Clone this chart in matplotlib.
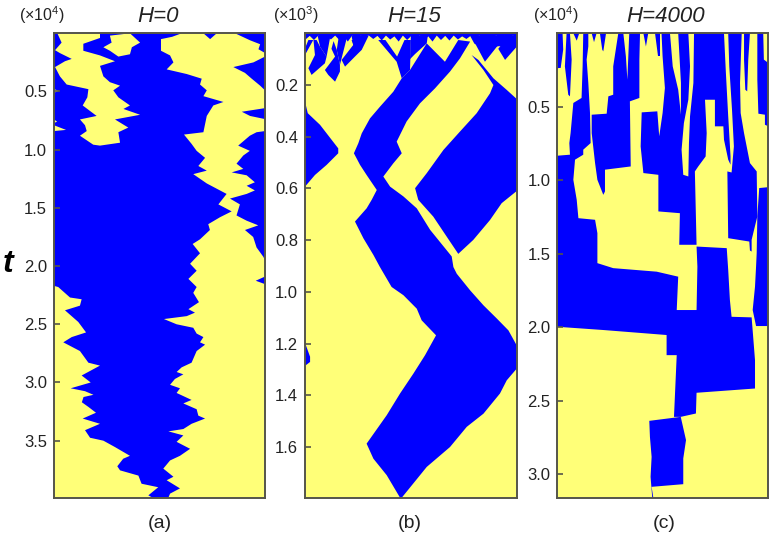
import matplotlib
matplotlib.use('Agg')
import matplotlib.pyplot as plt

plt.rcParams['font.family'] = ['Liberation Sans', 'DejaVu Sans']

BLUE = '#0000ff'
YELLOW = '#ffff78'
EDGE = '#55554a'

# domain boundaries, as (site %, t)
# panel (a), H=0
a_main = [(0, 0), (60.5, 0), (56, .03), (50.7, .05), (50.7, .15), (55, .19), (56.6, .25), (53.4, .31), (62.9, .35),
          (70, .39), (69.2, .44), (72.4, .49), (70.8, .54), (80.3, .59), (75.5, .62), (72.4, .71), (70.8, .85),
          (61.6, .87), (65.2, .95), (67.6, 1.01), (71.6, 1.07), (68.4, 1.14), (72.4, 1.18), (66, 1.21), (72.4, 1.29),
          (81.8, 1.38), (77.9, 1.47), (84.2, 1.53), (78.7, 1.58), (73.1, 1.64), (73.9, 1.69), (69.2, 1.77),
          (65.7, 1.81), (69.2, 1.89), (64.5, 1.98), (67.6, 2.04), (63.7, 2.11), (67.6, 2.18), (66, 2.23),
          (68.7, 2.31), (63.7, 2.37), (66.8, 2.40), (62.9, 2.43), (52.1, 2.455), (58.1, 2.50), (66, 2.53),
          (67.6, 2.58), (70.8, 2.61), (69.2, 2.655), (71.6, 2.675), (67.6, 2.73), (65.2, 2.83), (60.5, 2.87),
          (58.1, 2.91), (61.3, 2.93), (57.3, 2.97), (55, 3.02), (59.7, 3.05), (58.1, 3.09), (65.2, 3.15),
          (61.3, 3.18), (67.6, 3.23), (68.4, 3.285), (71.6, 3.31), (65.2, 3.355), (61.3, 3.40), (54.2, 3.42),
          (61.3, 3.455), (58.1, 3.51), (64.5, 3.57), (59.7, 3.63), (55, 3.67), (51.8, 3.74), (56.6, 3.81),
          (53.4, 3.84), (59.7, 3.91), (55, 3.955), (54.2, 3.99), (46.8, 3.99), (44.7, 3.97), (49.4, 3.90),
          (41.5, 3.87), (40, 3.80), (31.3, 3.755), (30, 3.72), (32.8, 3.655), (36, 3.63), (28.9, 3.555),
          (23.4, 3.50), (17.1, 3.475), (14.7, 3.41), (21.8, 3.355), (13.6, 3.31), (19.9, 3.26), (16.3, 3.21),
          (13.2, 3.17), (14, 3.125), (18.7, 3.106), (14.7, 3.075), (7.9, 3.05), (17.4, 3.0), (13.1, 2.94),
          (21.8, 2.855), (16.3, 2.83), (12.3, 2.73), (4.4, 2.655), (8.4, 2.61), (15.2, 2.57), (11.5, 2.48),
          (5.2, 2.38), (12.3, 2.34), (13.1, 2.285), (7.6, 2.27), (2, 2.18), (0, 2.17)]
a_right = [
    [(85.8, 0), (92.9, .06), (97.7, .094), (96.9, .137), (99.7, .166), (100, .17), (100, 0)],
    [(70.8, 0), (74, .05), (77.1, 0)],
    [(100, .2), (94.5, .25), (85, .29), (90.5, .34), (93.7, .39), (97.7, .45), (100, .49)],
    [(100, .643), (89, .674), (92.9, .71), (100, .737)],
    [(100, .84), (96, .85), (92.8, .88), (87.3, .965), (92.8, 1.01), (89.7, 1.05), (86.5, 1.12), (89.7, 1.165),
     (84.2, 1.195), (91.3, 1.22), (95.2, 1.28), (91.3, 1.31), (95.2, 1.35), (91.3, 1.38), (83.4, 1.42), (88.1, 1.47),
     (86.5, 1.565), (91.3, 1.61), (96.8, 1.65), (90.5, 1.69), (94.4, 1.75), (96, 1.84), (99.2, 1.92), (100, 1.95)],
    [(100, 2.09), (95.6, 2.126), (100, 2.155)],
]
a_islands = [
    [(1.6, 0), (21.8, 0), (21.8, .04), (13.9, .09), (13.9, .15), (21.8, .19), (28.9, .24), (21.8, .28), (23.4, .37),
     (26.5, .42), (31.3, .45), (28.1, .49), (30.5, .55), (36, .62), (32.9, .65), (40.8, .70), (28.9, .74), (35.2, .81),
     (30.5, .85), (31.3, .94), (21.8, .965), (18.6, .957), (12.3, .88), (15.5, .84), (14.7, .79), (12.3, .74),
     (20.2, .71), (13.6, .62), (15.8, .55), (16.3, .48), (6, .44), (2.8, .37), (.5, .29), (5.2, .24), (8.4, .22),
     (2.8, .17), (.5, .145), (3.6, .08)],
    [(26.5, .02), (36, 0), (40.8, .08), (36.9, .12), (36, .18), (30.5, .2), (26.5, .15), (23.4, .12), (27.3, .08)],
    [(0, .48), (2.5, .495), (0, .51)],
    [(0, .74), (1.5, .76), (0, .77)],
    [(0, .79), (5.7, .83), (0, .84)],
]

# panel (b), H=15
b_band = [(45.7, .174), (41.7, .226), (35.4, .284), (30.7, .329), (26.8, .387), (25.2, .425), (23.1, .464), (26, .509),
          (29.1, .548), (33.9, .606), (31.5, .644), (29.1, .677), (23.6, .728), (27.6, .793), (32.3, .857), (35.4, .904),
          (40.9, .981), (46.5, 1.013), (52.8, 1.065), (55.1, 1.11), (61.9, 1.168), (56.7, 1.245), (51.2, 1.316),
          (44.9, 1.393), (38.6, 1.477), (29.1, 1.587), (32.3, 1.645), (38.6, 1.709), (44.9, 1.796), (45.7, 1.796),
          (57.5, 1.677), (68.5, 1.6), (76.4, 1.522), (84.3, 1.471), (92.1, 1.393), (95.3, 1.342), (100, 1.297),
          (100, 1.207), (96.1, 1.149), (90.6, 1.103), (84.3, 1.052), (78, .994), (71.7, .93), (70.1, .904), (69.3, .863),
          (59.1, .76), (52.8, .677), (46.5, .631), (40.2, .593), (37, .554), (41.7, .503), (45.7, .464), (43.3, .419),
          (48, .341), (54.3, .271), (61.4, .213), (68.5, .148), (73.2, .097), (78, .032), (72.4, .026), (66.1, .11),
          (57.5, .039), (49.6, .142)]
b_right = [(78.7, .084), (84.3, .142), (89, .2), (87.4, .232), (81.1, .309), (73.2, .38), (65.4, .451), (57.5, .541),
           (52, .599), (53.5, .644), (60.6, .709), (66.9, .786), (72.4, .853), (79.5, .799), (87.4, .722), (92.9, .657),
           (99.7, .612), (100, .612), (100, .254), (95.3, .219), (89, .174), (81.9, .103)]
b_small = [
    [(0, .264), (1.3, .309), (7.1, .354), (15.7, .445), (15.7, .464), (10.2, .509), (4.7, .548), (0, .593)],
    [(0, 1.197), (2.4, 1.251), (2.4, 1.271), (0, 1.286)],
    [(34.6, .026), (38, .026), (43.5, .09), (47, .026), (50, .026), (49.6, .142), (45.7, .174), (43.3, .11)],
    [(4.7, .084), (1.6, .135), (3.1, .161), (9.4, .116), (10.2, .09), (7.1, .052), (5.5, .026), (4, .026)],
    [(14.2, .09), (9.4, .142), (11, .161), (14.2, .187), (16.5, .148), (16.5, .122), (15, .064), (13.5, .03), (12.5, .06)],
    [(17.3, .103), (22.8, .045), (22, .026), (26, .026), (26.8, .064), (23.6, .09), (18.9, .129)],
    [(0, .084), (3.9, .026), (1.6, .026), (0, .058)],
    [(79.5, .026), (85, .11), (91.3, .045), (87.4, .026)],
    [(91.3, .06), (94.5, .026), (100, .026), (100, .052), (94.5, .103)],
    [(6, .01), (12, .01), (10.2, .09), (7.1, .052)],
    [(16, .01), (20, .01), (16.5, .122), (15, .064)],
    [(22, .01), (30, .01), (26.8, .064), (22.8, .045)],
    [(78, .01), (100, .01), (100, .04), (94, .05), (91.3, .05), (85, .06), (80, .04)],
    [(50, .01), (58, .01), (57.5, .039), (52, .08), (49.6, .10)],
]
b_comb_sites = [0, 2, 4, 6, 8, 10, 12, 14, 16, 18, 20, 22, 24, 26, 28, 30, 32, 34, 36, 38, 40, 42, 44, 46, 48, 50,
                52, 54, 56, 58, 60, 62, 64, 66, 68, 70, 72, 74, 76, 78, 80, 82, 84, 86, 88, 90, 92, 94, 96, 98, 100]
b_comb_depth = [.022, .008, .024, .007, .026, .009, .022, .007, .024, .008, .03, .007, .024, .008, .01, .007, .02, .008,
                .026, .007, .022, .01, .03, .007, .024, .008, .026, .007, .022, .01, .03, .007, .024, .008, .026, .007,
                .022, .01, .02, .008, .026, .007, .024, .01, .03, .007, .024, .008, .026, .007, .022]

# panel (c), H=4000
c_big = [(12.3, 0), (14.7, 0), (14.7, .089), (13.9, .179), (14.7, .338), (15.5, .543), (15.8, .747), (12.3, .792),
         (12.3, .826), (8.4, .86), (7.6, .997), (9.2, 1.133), (10, 1.258), (17.9, 1.269), (19, 1.36), (19, 1.564),
         (26.5, 1.598), (47.1, 1.622), (57.3, 1.656), (56.6, 1.883), (66, 1.883), (66.4, 1.588), (66, 1.451),
         (80.3, 1.462), (81, 1.61), (81.8, 1.815), (82.6, 1.929), (92.1, 1.933), (93.7, 2.224), (93.7, 2.417),
         (66, 2.446), (65.7, 2.587), (58.5, 2.61), (55.3, 2.61), (56.6, 2.19), (51.8, 2.19), (51.8, 2.053),
         (21.8, 2.019), (0, 1.997), (0, .833), (6, .826), (5.7, .747), (6.3, .679), (7.6, .474), (11.5, .44), (12, .225)]
c_mid = [(40, .538), (47.4, .531), (48.3, .701), (49.9, .543), (51, .372), (49.9, .157), (49.4, 0), (53.4, 0),
         (54.7, .225), (57.3, .384), (58.6, .554), (58.6, .338), (57.3, 0), (62.1, 0), (62.9, .225), (62.1, .452),
         (60, .611), (58.9, .792), (59.7, .963), (62.1, .974), (62.4, .747), (62.9, .565), (64.5, .338), (64.8, 0),
         (70, 0), (70, .452), (70.8, .679), (70.3, .838), (66.8, .906), (65.2, .94), (66, 1.439), (57.8, 1.439),
         (58.1, 1.224), (47.9, 1.212), (47.9, .963), (40.8, .951), (39.5, .77)]
c_cols = [
    [(0, 0), (2.5, 0), (2.8, .11), (1.6, .236), (.5, .236), (0, .247)],
    [(4.4, 0), (6, 0), (6.8, .179), (6, .429), (5.2, .418), (3.6, .225)],
    [(26.5, .225), (28.9, 0), (31.3, 0), (32.5, .157), (33.2, .316), (34.1, 0), (39.2, 0), (38.9, .179), (38.9, .44),
     (34.4, .463), (34.8, .906), (22.6, .928), (22.6, 1.076), (21.8, 1.099), (19, .997), (17.9, .883), (16.3, .679),
     (16.3, .554), (23.4, .547), (24.2, .429), (26.5, .418)],
    [(69.5, 0), (79, 0), (79.9, .27), (81, .565), (82.1, .838), (82.1, .894), (81, .86), (79, .724), (78.7, .633),
     (74.7, .633), (74.7, .452), (69.5, .452)],
    [(81, 0), (87.4, 0), (86.6, .338), (86.9, .543), (88.5, .679), (91.3, .883), (94.5, .94), (94.8, 1.246),
     (92.1, 1.405), (92.1, 1.485), (91.3, 1.478), (91, 1.417), (81, 1.394), (80.6, .94), (82.6, .947), (83.7, .77),
     (82.8, .52), (81.5, .225)],
    [(88.5, 0), (91.3, 0), (90.5, .179), (90, .395), (89.1, .384), (88.5, .179)],
    [(94.8, 0), (97.6, 0), (97.9, .179), (100, .202), (100, .633), (98.4, .622), (98.4, .554), (95.3, .547), (94.8, .316)],
    [(95.7, 1.053), (100, 1.047), (100, 1.992), (94.2, 1.992), (92.6, 1.883), (93.7, 1.724), (94.2, 1.588),
     (94.5, 1.496), (94.8, 1.246)],
    [(43.6, 2.637), (58.5, 2.61), (61, 2.768), (59.7, 2.893), (59.7, 3.068), (44.7, 3.086), (45.5, 3.16), (45, 3.16),
     (44.2, 3.018), (44.7, 2.882), (43.9, 2.746)],
    [(20.2, 0), (23.1, 0), (21.8, .123), (21.3, .112)],
    [(7.6, 0), (10.4, 0), (9.2, .05)],
    [(16.3, 0), (18.6, 0), (17.4, .06)],
    [(40.8, 0), (43.1, 0), (42, .09)],
    [(46.3, 0), (48.7, 0), (48.7, .157), (47.7, .157)],
]

a_ticks = [0.5, 1.0, 1.5, 2.0, 2.5, 3.0, 3.5]
b_ticks = [0.2, 0.4, 0.6, 0.8, 1.0, 1.2, 1.4, 1.6]
c_ticks = [0.5, 1.0, 1.5, 2.0, 2.5, 3.0]
a_tmax, b_tmax, c_tmax = 3.99, 1.796, 3.16

W, H = 775, 537
fig = plt.figure(figsize=(W / 100, H / 100), dpi=100)


def panel(left, right, tmax, ticks):
    ax = fig.add_axes([left / W, 1 - 497.7 / H, (right - left) / W, (497.7 - 33.3) / H])
    ax.set_facecolor(YELLOW)
    ax.set_xlim(0, 100)
    ax.set_ylim(tmax, 0)
    ax.set_xticks([])
    ax.set_yticks(ticks)
    ax.set_yticklabels([f'{v:.1f}' for v in ticks], fontsize=12, color='#222222')
    ax.tick_params(axis='y', direction='in', length=4, width=1.2, color=EDGE, pad=5)
    for s in ax.spines.values():
        s.set_color(EDGE)
        s.set_linewidth(1.4)
        s.set_zorder(5)
    return ax


def patches(ax, polys, colour):
    for p in polys:
        ax.fill([v[0] for v in p], [v[1] for v in p], color=colour, lw=0)


ax_a = panel(54, 265, a_tmax, a_ticks)
patches(ax_a, [a_main] + a_right, BLUE)
patches(ax_a, a_islands, YELLOW)

ax_b = panel(305, 516.7, b_tmax, b_ticks)
patches(ax_b, [b_band, b_right] + b_small, BLUE)
ax_b.fill_between(b_comb_sites, 0, b_comb_depth, color=BLUE, lw=0)

ax_c = panel(557.3, 768.3, c_tmax, c_ticks)
patches(ax_c, [c_big, c_mid] + c_cols, BLUE)

# titles and labels placed in figure pixels
for x, s in [(158, 'H=0'), (414, 'H=15'), (666, 'H=4000')]:
    fig.text(x / W, 1 - 22 / H, s, fontsize=16, style='italic', ha='center', va='baseline', color='#222222')
for x, s in [(19, r'(×10$^{\mathregular{4}}$)'), (273, r'(×10$^{\mathregular{3}}$)'), (533, r'(×10$^{\mathregular{4}}$)')]:
    fig.text(x / W, 1 - 21 / H, s, fontsize=11.5, ha='left', va='baseline', color='#222222')
for x, s in [(160, '(a)'), (410, '(b)'), (664, '(c)')]:
    fig.text(x / W, 1 - 528 / H, s, fontsize=14, ha='center', va='baseline', color='#222222')
fig.text(8 / W, 1 - 272 / H, 't', fontsize=23, style='italic', fontweight='bold', ha='center', va='baseline')

fig.savefig('out.png', dpi=100)
plt.close(fig)
